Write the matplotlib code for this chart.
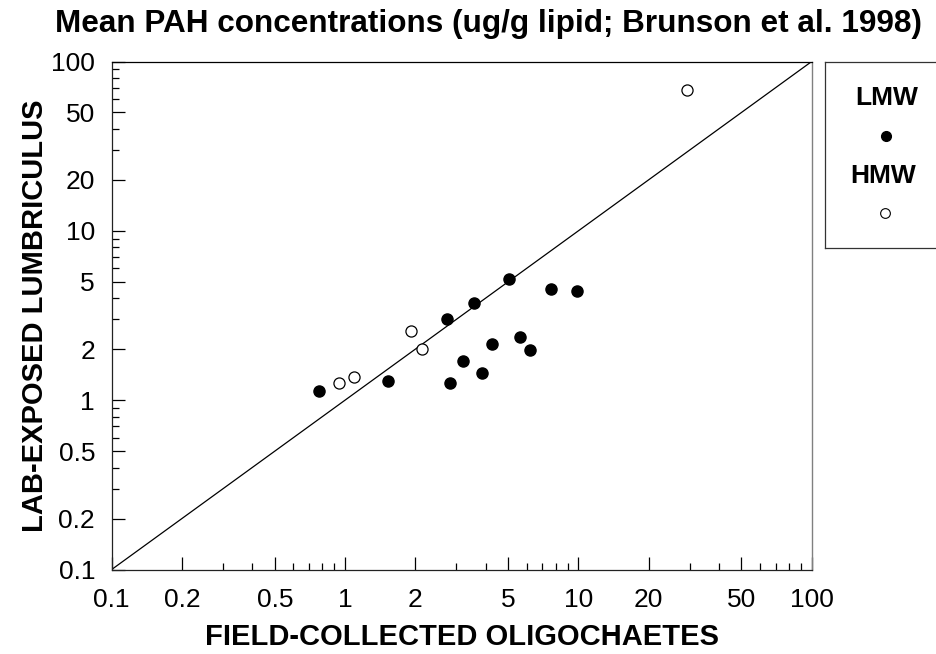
import matplotlib
matplotlib.use("Agg")
import matplotlib.pyplot as plt
from matplotlib.ticker import FixedLocator, FixedFormatter, NullFormatter

plt.rcParams['font.family'] = ['Liberation Sans', 'DejaVu Sans']

# Data (ug/g lipid)
lmw_field = [0.77, 1.53, 2.73, 2.81, 3.20, 3.57, 4.25, 3.86, 5.04, 5.61, 6.21, 7.63, 9.87]
lmw_lab   = [1.14, 1.29, 3.03, 1.27, 1.70, 3.75, 2.15, 1.44, 5.22, 2.36, 1.99, 4.56, 4.43]
hmw_field = [0.94, 1.09, 1.92, 2.14, 29.1]
hmw_lab   = [1.27, 1.37, 2.57, 2.00, 68.1]
series_names = ['LMW', 'HMW']

major_ticks = [0.1, 0.2, 0.5, 1, 2, 5, 10, 20, 50, 100]
major_labels = ['0.1', '0.2', '0.5', '1', '2', '5', '10', '20', '50', '100']
minor_ticks = [m * d for d in (0.1, 1, 10) for m in (3, 4, 6, 7, 8, 9)]
line_range = [0.1, 100]

W, H = 937, 654
fig = plt.figure(figsize=(W / 100, H / 100), dpi=100)
ax = fig.add_axes([111.7 / W, (H - 569.5) / H, 700 / W, 508 / H])
ax.set_xscale('log')
ax.set_yscale('log')
ax.set_xlim(0.1, 100)
ax.set_ylim(0.1, 100)

ax.plot(line_range, line_range, color='black', lw=0.9)
ax.plot(lmw_field, lmw_lab, 'o', color='black', ms=8, ls='none', clip_on=False)
ax.plot(hmw_field, hmw_lab, 'o', mfc='white', mec='black', mew=0.9, ms=8, ls='none', clip_on=False)

for axis in (ax.xaxis, ax.yaxis):
    axis.set_major_locator(FixedLocator(major_ticks))
    axis.set_major_formatter(FixedFormatter(major_labels))
    axis.set_minor_locator(FixedLocator(minor_ticks))
    axis.set_minor_formatter(NullFormatter())
ax.tick_params(which='major', direction='in', length=9.4, width=0.9, labelsize=19,
               top=False, right=False)
ax.tick_params(which='minor', direction='in', length=5.3, width=0.9, top=False, right=False)
ax.tick_params(axis='x', which='major', pad=13)
ax.tick_params(axis='y', which='major', pad=12)
for s in ('left', 'bottom'):
    ax.spines[s].set_linewidth(0.9)
    ax.spines[s].set_color('#222222')
ax.spines['top'].set_linewidth(0.9)
ax.spines['right'].set_color('#808080')
ax.spines['right'].set_linewidth(1.0)

fig.text(461.7 / W, (H - 645) / H, 'FIELD-COLLECTED OLIGOCHAETES',
         ha='center', va='baseline', fontsize=21, fontweight='bold')
fig.text(43.3 / W, (H - 315.8) / H, 'LAB-EXPOSED LUMBRICULUS', rotation=90,
         rotation_mode='anchor', ha='center', va='baseline', fontsize=21, fontweight='bold')
fig.text(489 / W, (H - 32.3) / H, 'Mean PAH concentrations (ug/g lipid; Brunson et al. 1998)',
         ha='center', va='baseline', fontsize=22.7, fontweight='bold')

# Legend box (extends beyond figure right edge)
lax = fig.add_axes([825 / W, (H - 248.3) / H, 130 / W, (248.3 - 61.7) / H])
lax.set_xlim(0, 1)
lax.set_ylim(0, 1)
lax.set_xticks([])
lax.set_yticks([])
for s in lax.spines.values():
    s.set_linewidth(0.9)
    s.set_color('#333333')
def lx(px):
    return (px - 825) / 130
def ly(py):
    return 1 - (py - 61.7) / (248.3 - 61.7)
lax.text(lx(886.5), ly(105), series_names[0], ha='center', va='baseline', fontsize=19, fontweight='bold')
lax.plot([lx(885.5)], [ly(136)], 'o', color='black', ms=7)
lax.text(lx(883.5), ly(183.3), series_names[1], ha='center', va='baseline', fontsize=19, fontweight='bold')
lax.plot([lx(885)], [ly(213.3)], 'o', mfc='white', mec='black', mew=0.8, ms=7)

fig.savefig('out.png', dpi=100)
